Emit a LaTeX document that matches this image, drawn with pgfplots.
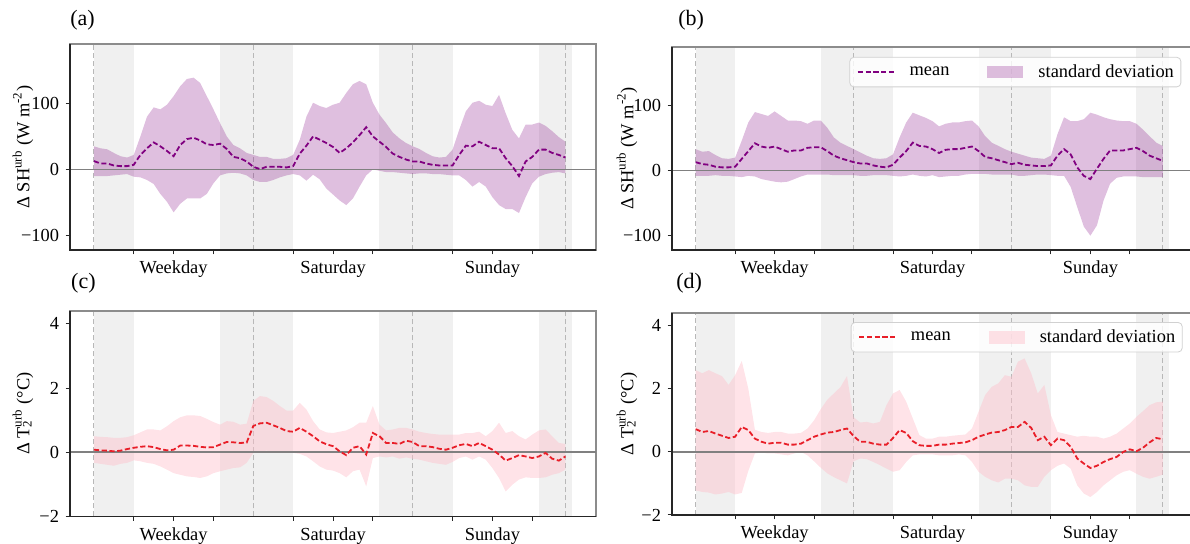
\documentclass[border=0pt]{standalone}
\usepackage{fontspec}
\setmainfont{Liberation Serif}
\usepackage{pgfplots}
\pgfplotsset{compat=1.18}
\usepackage{pgfplotstable}
\usepgfplotslibrary{fillbetween}

\definecolor{pmean}{RGB}{128,0,128}
\definecolor{pband}{RGB}{128,0,128}
\definecolor{rmean}{RGB}{232,30,40}
\definecolor{rband}{RGB}{255,192,203}
\definecolor{night}{RGB}{240,240,240}
\newcommand{\fs}{\fontsize{9.2}{11}\selectfont}

\pgfplotstableread{
h m u l
0 12.7 35 -10
1 9 32 -10
2 9 30.5 -10
3 6 25 -9
4 5 20 -8
5 5 18 -7
6 7 22 -11
7 22 50 -12
8 32 80 -16
9 41 94 -22
10 35 91 -37
11 28 98 -49
12 20 111 -65
13 37 126 -52
14 46 137 -44
15 48 139 -44
16 44 131 -44
17 38 111 -37
18 37 91 -21
19 39 70 -9
20 31 50 -6
21 19 37 -5
22 17 32 -6
23 12 25 -9
24 4 22 -16
25 0.5 19 -19
26 4 19 -19
27 4 16 -16
28 4 16 -12
29 3 17 -9
30 5 22 -7
31 24 45 -9
32 36 80 -17
33 50 101 -8
34 45 96 -15
35 40 93 -29
36 34 98 -38
37 25 101 -47
38 32 116 -54
39 41 129 -44
40 52 134 -26
41 64 129 -9
42 50 101 0
43 42 83 -2
44 34 70 -4
45 24 56 -4
46 19 47 -5
47 15 40 -6
48 12 35 -7
49 12 31 -6
50 9 25 -6
51 7 20 -7
52 6 18 -7
53 6 19 -8
54 6 30 -9
55 22 60 -9
56 36 88 -16
57 35 101 -26
58 42 104 -19
59 37 98 -26
60 32 96 -42
61 32 113 -54
62 17 85 -60
63 5 60 -60
64 -10 47 -66
65 12 68 -42
66 19 68 -21
67 30 71 -11
68 30 66 -7
69 25 58 -5
70 22 49 -4
71 18 42 -6
}\tA

\pgfplotstableread{
h m u l
0 13 33 -8
1 10 29 -8
2 9 30 -8
3 6 24 -7
4 5 19 -8
5 5 18 -8
6 6 20 -9
7 18 46 -10
8 30 74 -8
9 42 90 -9
10 37 87 -13
11 35 84 -15
12 37 91 -17
13 33 84 -18
14 29 77 -17
15 31 77 -13
16 31 76 -9
17 35 72 -6
18 36 77 -6
19 36 77 -6
20 30 66 -6
21 23 51 -7
22 19 43 -7
23 16 38 -7
24 13 33 -7
25 11 28 -8
26 11 23 -8
27 8 19 -7
28 6 18 -7
29 5 19 -7
30 9 25 -8
31 20 51 -9
32 30 74 -8
33 43 89 -6
34 38 85 -8
35 37 81 -9
36 33 76 -7
37 27 68 -10
38 32 72 -9
39 33 74 -8
40 33 74 -8
41 35 76 -6
42 37 77 -5
43 30 68 -5
44 21 53 -5
45 19 43 -6
46 16 38 -6
47 13 33 -6
48 10 29 -6
49 12 26 -8
50 9 23 -8
51 8 20 -7
52 7 19 -6
53 7 18 -6
54 8 23 -7
55 23 56 -8
56 33 82 -8
57 25 76 -25
58 5 76 -56
59 -8 79 -86
60 -13 89 -100
61 3 86 -84
62 18 82 -46
63 31 79 -20
64 31 77 -11
65 31 76 -9
66 33 76 -9
67 35 72 -9
68 30 63 -10
69 23 53 -10
70 19 43 -10
71 15 38 -10
}\tB

\pgfplotstableread{
h m u l
0 0.08 0.5 -0.33
1 0.06 0.48 -0.36
2 0.05 0.47 -0.39
3 0.03 0.45 -0.42
4 0.05 0.45 -0.36
5 0.1 0.47 -0.33
6 0.14 0.53 -0.25
7 0.17 0.62 -0.28
8 0.19 0.71 -0.33
9 0.16 0.71 -0.36
10 0.1 0.68 -0.44
11 0.06 0.81 -0.54
12 0.08 0.97 -0.65
13 0.21 1.09 -0.7
14 0.21 1.15 -0.75
15 0.2 1.15 -0.77
16 0.17 1.13 -0.8
17 0.15 1.04 -0.75
18 0.16 0.94 -0.65
19 0.24 0.86 -0.59
20 0.32 0.97 -0.54
21 0.31 0.95 -0.49
22 0.29 0.86 -0.47
23 0.3 0.89 -0.33
24 0.82 1.6 -0.02
25 0.9 1.75 0.03
26 0.92 1.72 0.05
27 0.84 1.6 0.03
28 0.76 1.44 0.01
29 0.66 1.3 -0.02
30 0.64 1.3 -0.02
31 0.76 1.54 -0.05
32 0.64 1.33 -0.13
33 0.5 0.97 -0.28
34 0.34 0.71 -0.44
35 0.25 0.62 -0.54
36 0.19 0.6 -0.57
37 0.03 0.64 -0.65
38 -0.09 0.68 -0.78
39 0.14 0.78 -0.59
40 0.19 0.92 -0.54
41 -0.07 0.92 -1.06
42 0.6 1.44 -0.18
43 0.5 0.86 -0.13
44 0.29 0.68 -0.16
45 0.29 0.71 -0.13
46 0.26 0.76 -0.2
47 0.36 0.76 -0.16
48 0.32 0.71 -0.2
49 0.19 0.64 -0.23
50 0.19 0.6 -0.28
51 0.16 0.57 -0.33
52 0.11 0.55 -0.36
53 0.08 0.55 -0.39
54 0.14 0.55 -0.3
55 0.22 0.55 -0.18
56 0.26 0.6 -0.13
57 0.19 0.6 -0.23
58 0.29 0.64 -0.13
59 0.19 0.5 -0.23
60 0.08 0.66 -0.49
61 -0.07 0.92 -0.8
62 -0.26 0.6 -1.22
63 -0.18 0.66 -1.01
64 -0.09 0.5 -0.85
65 -0.13 0.4 -0.78
66 -0.18 0.55 -0.8
67 -0.13 0.68 -0.8
68 -0.02 0.71 -0.78
69 -0.2 0.5 -0.7
70 -0.26 0.29 -0.65
71 -0.13 0.26 -0.54
}\tC

\pgfplotstableread{
h m u l
0 0.72 2.59 -1.22
1 0.63 2.49 -1.27
2 0.66 2.59 -1.29
3 0.58 2.49 -1.35
4 0.51 2.4 -1.32
5 0.44 2.12 -1.27
6 0.48 2.43 -1.35
7 0.79 2.88 -1.3
8 0.69 2.0 -0.6
9 0.42 0.7 -0.05
10 0.32 0.63 -0.02
11 0.26 0.6 -0.05
12 0.29 0.63 -0.05
13 0.29 0.63 -0.08
14 0.23 0.58 -0.11
15 0.23 0.58 -0.05
16 0.26 0.6 0
17 0.37 0.74 -0.11
18 0.48 1.0 -0.3
19 0.55 1.35 -0.5
20 0.61 1.65 -0.68
21 0.63 1.85 -0.8
22 0.69 2.05 -0.9
23 0.74 2.4 -1.0
24 0.5 1.1 -0.3
25 0.32 0.93 -0.21
26 0.32 0.95 -0.23
27 0.26 0.9 -0.32
28 0.23 0.95 -0.42
29 0.23 1.48 -0.53
30 0.44 1.85 -0.63
31 0.69 1.96 -0.58
32 0.6 1.59 -0.32
33 0.34 1.06 -0.11
34 0.21 0.53 -0.08
35 0.19 0.42 -0.08
36 0.19 0.42 -0.08
37 0.23 0.48 -0.11
38 0.23 0.48 -0.11
39 0.26 0.51 -0.11
40 0.28 0.53 -0.08
41 0.3 0.55 -0.11
42 0.37 0.74 -0.32
43 0.48 1.27 -0.63
44 0.55 1.8 -0.79
45 0.61 2.06 -0.9
46 0.63 2.17 -0.97
47 0.69 2.43 -0.85
48 0.79 2.38 -0.85
49 0.79 2.86 -0.9
50 0.95 2.96 -1.06
51 0.76 2.49 -1.11
52 0.37 1.85 -1.11
53 0.48 2.12 -0.79
54 0.21 1.16 -0.58
55 0.42 0.63 -0.44
56 0.37 0.58 -0.37
57 0.16 0.53 -0.53
58 -0.21 0.48 -1.06
59 -0.37 0.51 -1.32
60 -0.51 0.48 -1.43
61 -0.44 0.48 -1.27
62 -0.32 0.42 -1.06
63 -0.23 0.48 -0.9
64 -0.16 0.58 -0.74
65 0 0.74 -0.63
66 0.08 0.9 -0.58
67 0.02 1.11 -0.69
68 0.13 1.29 -0.79
69 0.3 1.48 -0.85
70 0.44 1.57 -0.79
71 0.4 1.59 -0.72
}\tD

\pgfplotsset{
  panel/.style={
    scale only axis, set layers, clip=false, anchor=south west,
    xmin=-3.6, xmax=75.6,
    xtick={6,12,18,30,36,42,54,60,66},
    xticklabels={,Weekday,,,Saturday,,,Sunday,},
    tick pos=left, tick align=outside, major tick length=2.2pt,
    tick style={black!85, line width=0.5pt},
    axis line style={black!45, line width=0.6pt},
    tick label style={font=\fs},
    label style={font=\fs},
    legend style={font=\fs},
  },
  shpanel/.style={ymin=-122, ymax=190, ytick={-100,0,100}, yticklabels={−100,0,100},
    ylabel={Δ SH\textsuperscript{urb} (W m\textsuperscript{-2})}},
  tpanel/.style={ymin=-2, ymax=4.4, ytick={-2,0,2,4}, yticklabels={−2,0,2,4},
    ylabel={Δ T\rlap{\textsubscript{2}}\textsuperscript{urb} (°C)}},
  meanP/.style={pmean, line width=0.9pt, dash pattern=on 2.6pt off 1.3pt},
  meanR/.style={rmean, line width=0.9pt, dash pattern=on 2.6pt off 1.3pt},
  leg/.style={legend columns=2, legend cell align=left,
    legend style={at={(axis description cs:#1)}, anchor=north east,
      draw=black!18, rounded corners=2pt, fill=white, fill opacity=0.8, text opacity=1, draw opacity=1,
      inner xsep=3.5pt, inner ysep=2.5pt,
      nodes={inner xsep=0pt, inner ysep=1pt},
      /tikz/every odd column/.append style={column sep=7.5pt},
      /tikz/every even column/.append style={column sep=19pt}}},
}

\newcommand{\nights}[2]{%
  \begin{pgfonlayer}{axis background}
    \fill[night] (axis cs:0,#1) rectangle (axis cs:6,#2);
    \fill[night] (axis cs:19,#1) rectangle (axis cs:30,#2);
    \fill[night] (axis cs:43,#1) rectangle (axis cs:54,#2);
    \fill[night] (axis cs:67,#1) rectangle (axis cs:72,#2);
    \draw[black!28, line width=0.45pt, dash pattern=on 2.5pt off 1.5pt] (axis cs:0,#1) -- (axis cs:0,#2);
    \draw[black!28, line width=0.45pt, dash pattern=on 2.5pt off 1.5pt] (axis cs:24,#1) -- (axis cs:24,#2);
    \draw[black!28, line width=0.45pt, dash pattern=on 2.5pt off 1.5pt] (axis cs:48,#1) -- (axis cs:48,#2);
    \draw[black!28, line width=0.45pt, dash pattern=on 2.5pt off 1.5pt] (axis cs:71,#1) -- (axis cs:71,#2);
  \end{pgfonlayer}}
\newcommand{\spines}{\draw[black!85, line width=0.7pt] (rel axis cs:0,1) -- (rel axis cs:0,0) -- (rel axis cs:1,0);}

\begin{document}
\fs
\begin{tikzpicture}

% (a)
\begin{axis}[panel, shpanel, at={(35pt,147pt)}, width=263pt, height=103pt,
  ylabel style={at={(axis description cs:-0.0894,0.5)}, anchor=center}]
\nights{-122}{190}
\addplot[name path=U, draw=none, forget plot] table[x=h,y=u]{\tA};
\addplot[name path=L, draw=none, forget plot] table[x=h,y=l]{\tA};
\addplot[pband, fill opacity=0.25, draw=none, forget plot] fill between[of=U and L];
\draw[black!50, line width=0.8pt] (axis cs:-3.6,0) -- (axis cs:75.6,0);
\addplot[meanP, forget plot] table[x=h,y=m]{\tA};
\spines
\end{axis}

% (b)
\begin{axis}[panel, shpanel, at={(336pt,147pt)}, width=260.5pt, height=101.5pt,
  ylabel style={at={(axis description cs:-0.0864,0.5)}, anchor=center},
  leg={0.9775,0.951}]
\nights{-122}{190}
\addplot[name path=U, draw=none, forget plot] table[x=h,y=u]{\tB};
\addplot[name path=L, draw=none, forget plot] table[x=h,y=l]{\tB};
\addplot[pband, fill opacity=0.25, draw=none, forget plot] fill between[of=U and L];
\draw[black!50, line width=0.8pt] (axis cs:-3.6,0) -- (axis cs:75.6,0);
\addplot[meanP, forget plot] table[x=h,y=m]{\tB};
\spines
\addlegendimage{legend image code/.code={\draw[pmean, line width=0.9pt, rounded corners=0pt, dash pattern=on 2.6pt off 1.3pt] (0pt,0pt) -- (18pt,0pt);}}
\addlegendentry{mean}
\addlegendimage{legend image code/.code={\fill[pband, fill opacity=0.25, draw=none, rounded corners=0pt] (0pt,-3.2pt) rectangle (18pt,3.2pt);}}
\addlegendentry{standard deviation}
\end{axis}

% (c)
\begin{axis}[panel, tpanel, at={(35pt,13.75pt)}, width=263pt, height=102.75pt,
  ylabel style={at={(axis description cs:-0.0894,0.5)}, anchor=center}]
\nights{-2}{4.4}
\addplot[name path=U, draw=none, forget plot] table[x=h,y=u]{\tC};
\addplot[name path=L, draw=none, forget plot] table[x=h,y=l]{\tC};
\addplot[rband, fill opacity=0.45, draw=none, forget plot] fill between[of=U and L];
\draw[black!50, line width=0.8pt] (axis cs:-3.6,0) -- (axis cs:75.6,0);
\addplot[meanR, forget plot] table[x=h,y=m]{\tC};
\spines
\end{axis}

% (d)
\begin{axis}[panel, tpanel, at={(336pt,14.5pt)}, width=260.5pt, height=101pt,
  ylabel style={at={(axis description cs:-0.0864,0.5)}, anchor=center},
  leg={0.98,0.955}]
\nights{-2}{4.4}
\addplot[name path=U, draw=none, forget plot] table[x=h,y=u]{\tD};
\addplot[name path=L, draw=none, forget plot] table[x=h,y=l]{\tD};
\addplot[rband, fill opacity=0.45, draw=none, forget plot] fill between[of=U and L];
\draw[black!50, line width=0.8pt] (axis cs:-3.6,0) -- (axis cs:75.6,0);
\addplot[meanR, forget plot] table[x=h,y=m]{\tD};
\spines
\addlegendimage{legend image code/.code={\draw[rmean, line width=0.9pt, rounded corners=0pt, dash pattern=on 2.6pt off 1.3pt] (0pt,0pt) -- (18pt,0pt);}}
\addlegendentry{mean}
\addlegendimage{legend image code/.code={\fill[rband, fill opacity=0.45, draw=none, rounded corners=0pt] (0pt,-3.2pt) rectangle (18pt,3.2pt);}}
\addlegendentry{standard deviation}
\end{axis}

\node[anchor=west, font=\fontsize{11}{13}\selectfont, inner sep=0pt] at (35pt,262pt) {(a)};
\node[anchor=west, font=\fontsize{11}{13}\selectfont, inner sep=0pt] at (339pt,262pt) {(b)};
\node[anchor=west, font=\fontsize{11}{13}\selectfont, inner sep=0pt] at (35.4pt,130.25pt) {(c)};
\node[anchor=west, font=\fontsize{11}{13}\selectfont, inner sep=0pt] at (338pt,130.25pt) {(d)};
\pgfresetboundingbox
\useasboundingbox (0,0) rectangle (595pt,272pt);
\end{tikzpicture}
\end{document}
